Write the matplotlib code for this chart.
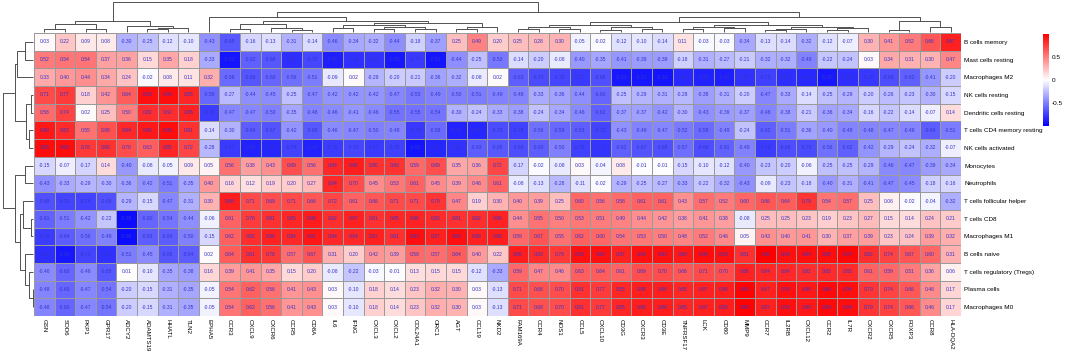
import matplotlib
matplotlib.use("Agg")
import matplotlib.pyplot as plt
import numpy as np
from matplotlib.colors import LinearSegmentedColormap

plt.rcParams['font.family'] = ['Liberation Sans', 'DejaVu Sans']

# ---------------- data ----------------
row_labels = ["B cells memory", "Mast cells resting", "Macrophages M2", "NK cells resting",
              "Dendritic cells resting", "T cells CD4 memory resting", "NK cells activated",
              "Monocytes", "Neutrophils", "T cells follicular helper", "T cells CD8",
              "Macrophages M1", "B cells naive", "T cells regulatory (Tregs)", "Plasma cells",
              "Macrophages M0"]

col_labels = ["GSN", "SOD6", "PKP1", "GPR17", "ADCY2", "ADAMTS19", "HHATL", "TLN2", "EPHA5",
              "CCR3", "CXCL9", "CXCR6", "CCR5", "CD8A", "IL6", "IFNG", "CXCL3", "CXCL2",
              "COL24A1", "ORC1", "AGT", "CCL19", "NKD2", "FAM169A", "CCR4", "NOS1", "CCL5",
              "CXCL10", "CD3G", "CXCR3", "CD3E", "TNFRSF17", "LCK", "CD80", "MMP9", "CCR7",
              "IL2RB", "CXCL12", "CCR2", "IL7R", "CXCR2", "CXCR5", "FOXP3", "CCR8", "HLA-DQA2"]

b_cells_memory = [0.03, 0.22, 0.09, 0.08, -0.30, -0.25, -0.12, -0.10, -0.43, -0.65,
                  -0.16, -0.13, -0.31, -0.14, -0.46, -0.34, -0.32, -0.44, -0.18, -0.37,
                  0.25, 0.49, 0.20, 0.25, 0.28, 0.30, -0.05, -0.02, -0.12, -0.10,
                  -0.14, 0.11, -0.03, -0.03, -0.34, -0.13, -0.14, -0.32, -0.12, -0.07,
                  0.30, 0.41, 0.52, 0.66, 0.87]
mast_cells_resting = [0.52, 0.54, 0.54, 0.37, 0.36, 0.15, 0.35, 0.18, -0.33, -0.92,
                      -0.62, -0.66, -0.82, -0.72, -0.88, -0.81, -0.80, -0.90, -0.77, -0.92,
                      -0.44, -0.25, -0.53, -0.14, -0.20, -0.08, -0.40, -0.35, -0.41, -0.39,
                      -0.39, -0.18, -0.31, -0.27, -0.21, -0.32, -0.32, -0.49, -0.22, -0.24,
                      0.03, 0.34, 0.31, 0.30, 0.47]
macrophages_m2 = [0.33, 0.40, 0.44, 0.34, 0.24, -0.02, 0.08, 0.11, 0.32, -0.58,
                  -0.66, -0.60, -0.56, -0.51, -0.09, 0.02, -0.29, -0.20, -0.21, -0.36,
                  -0.32, -0.08, 0.02, -0.63, -0.70, -0.72, -0.77, -0.68, -0.90, -0.91,
                  -0.92, -0.84, -0.86, -0.88, -0.80, -0.75, -0.82, -0.84, -0.90, -0.82,
                  -0.78, -0.69, -0.62, -0.41, -0.20]
nk_cells_resting = [0.71, 0.77, 0.18, 0.42, 0.64, 0.93, 0.94, 0.85, -0.59, -0.27,
                    -0.44, -0.45, -0.25, -0.47, -0.42, -0.42, -0.42, -0.47, -0.53, -0.49,
                    -0.50, -0.51, -0.49, -0.48, -0.33, -0.36, -0.44, -0.60, -0.25, -0.29,
                    -0.31, -0.28, -0.38, -0.31, -0.20, -0.47, -0.33, -0.14, -0.25, -0.29,
                    -0.20, -0.26, -0.23, -0.30, -0.15]
dendritic_cells_resting = [0.58, 0.74, 0.02, 0.25, 0.50, 0.82, 0.82, 0.86, -0.76, -0.47,
                           -0.47, -0.50, -0.35, -0.48, -0.46, -0.41, -0.46, -0.55, -0.55, -0.54,
                           -0.30, -0.24, -0.33, -0.38, -0.24, -0.34, -0.46, -0.62, -0.37, -0.37,
                           -0.42, -0.30, -0.43, -0.39, -0.37, -0.48, -0.38, -0.21, -0.36, -0.34,
                           -0.16, -0.22, -0.14, -0.07, 0.14]
t_cd4_memory_resting = [0.90, 0.83, 0.55, 0.68, 0.84, 0.90, 0.95, 0.81, -0.14, -0.30,
                        -0.64, -0.67, -0.42, -0.65, -0.46, -0.47, -0.50, -0.48, -0.78, -0.58,
                        -0.86, -0.85, -0.70, -0.75, -0.56, -0.59, -0.63, -0.73, -0.43, -0.49,
                        -0.47, -0.52, -0.58, -0.49, -0.24, -0.62, -0.51, -0.36, -0.40, -0.48,
                        -0.48, -0.47, -0.48, -0.64, -0.51]
nk_cells_activated = [0.95, 0.95, 0.78, 0.80, 0.70, 0.63, 0.85, 0.72, -0.28, -0.77,
                      -0.86, -0.85, -0.74, -0.86, -0.76, -0.72, -0.77, -0.75, -0.92, -0.85,
                      -0.80, -0.63, -0.65, -0.69, -0.63, -0.50, -0.75, -0.79, -0.62, -0.67,
                      -0.68, -0.57, -0.69, -0.61, -0.49, -0.76, -0.69, -0.70, -0.56, -0.62,
                      -0.42, -0.29, -0.24, -0.32, -0.07]
monocytes = [-0.15, -0.07, -0.17, 0.14, -0.40, -0.08, -0.05, 0.09, 0.05, 0.56,
             0.38, 0.43, 0.69, 0.56, 0.84, 0.88, 0.80, 0.80, 0.59, 0.69,
             0.35, 0.36, 0.72, -0.17, -0.02, -0.08, 0.03, -0.04, 0.08, -0.01,
             -0.01, -0.15, -0.10, -0.12, -0.40, -0.23, -0.20, -0.06, -0.25, -0.25,
             -0.29, -0.46, -0.47, -0.39, -0.34]
neutrophils = [-0.43, -0.33, -0.29, -0.30, -0.36, -0.42, -0.51, -0.35, 0.40, 0.16,
               0.12, 0.19, 0.20, 0.27, 0.84, 0.70, 0.45, 0.53, 0.61, 0.45,
               0.39, 0.46, 0.61, -0.08, -0.13, -0.28, -0.11, -0.02, -0.29, -0.25,
               -0.27, -0.33, -0.22, -0.32, -0.43, -0.09, -0.23, -0.18, -0.40, -0.31,
               -0.41, -0.47, -0.45, -0.18, -0.16]
t_follicular_helper = [-0.68, -0.73, -0.74, -0.68, -0.29, -0.15, -0.47, -0.31, 0.30, 0.88,
                       0.71, 0.69, 0.71, 0.66, 0.72, 0.61, 0.66, 0.71, 0.71, 0.79,
                       0.47, 0.19, 0.30, 0.40, 0.39, 0.25, 0.60, 0.56, 0.58, 0.61,
                       0.61, 0.43, 0.57, 0.52, 0.60, 0.66, 0.64, 0.79, 0.54, 0.57,
                       0.25, 0.06, -0.02, -0.04, -0.32]
t_cd8 = [-0.61, -0.51, -0.42, -0.22, -0.95, -0.60, -0.54, -0.44, -0.06, 0.61,
         0.76, 0.81, 0.85, 0.89, 0.82, 0.87, 0.81, 0.85, 0.86, 0.83,
         0.81, 0.82, 0.86, 0.44, 0.55, 0.50, 0.53, 0.51, 0.49, 0.44,
         0.42, 0.38, 0.41, 0.38, -0.08, 0.25, 0.25, 0.23, 0.19, 0.23,
         0.27, 0.15, 0.14, 0.24, 0.21]
macrophages_m1 = [-0.76, -0.64, -0.56, -0.49, -0.95, -0.63, -0.64, -0.50, -0.15, 0.62,
                  0.82, 0.86, 0.84, 0.91, 0.84, 0.84, 0.87, 0.81, 0.93, 0.87,
                  0.93, 0.86, 0.88, 0.59, 0.67, 0.55, 0.62, 0.60, 0.54, 0.53,
                  0.50, 0.48, 0.52, 0.46, 0.05, 0.43, 0.40, 0.41, 0.30, 0.37,
                  0.39, 0.23, 0.24, 0.39, 0.32]
b_cells_naive = [-0.82, -0.90, -0.73, -0.81, -0.51, -0.45, -0.66, -0.64, 0.02, 0.64,
                 0.81, 0.78, 0.57, 0.67, 0.31, 0.20, 0.42, 0.39, 0.59, 0.57,
                 0.64, 0.40, 0.22, 0.89, 0.83, 0.78, 0.93, 0.93, 0.87, 0.93,
                 0.93, 0.90, 0.95, 0.93, 0.81, 1.00, 0.93, 0.94, 0.95, 0.97,
                 0.82, 0.74, 0.67, 0.60, 0.31]
t_regs = [-0.46, -0.60, -0.46, -0.65, 0.01, -0.10, -0.35, -0.38, 0.16, 0.39,
          0.41, 0.35, 0.15, 0.20, -0.08, -0.22, -0.03, -0.01, 0.13, 0.15,
          0.15, -0.12, -0.33, 0.59, 0.47, 0.46, 0.63, 0.64, 0.61, 0.69,
          0.70, 0.66, 0.71, 0.70, 0.86, 0.84, 0.84, 0.82, 0.83, 0.83,
          0.61, 0.59, 0.51, 0.36, 0.06]
plasma_cells = [-0.48, -0.60, -0.47, -0.54, -0.20, -0.15, -0.31, -0.35, -0.05, 0.54,
                0.62, 0.56, 0.41, 0.43, 0.03, -0.10, 0.18, 0.14, 0.23, 0.32,
                0.30, 0.03, -0.13, 0.71, 0.68, 0.70, 0.81, 0.77, 0.85, 0.88,
                0.88, 0.85, 0.87, 0.88, 0.99, 0.87, 0.93, 0.90, 0.96, 0.94,
                0.79, 0.74, 0.66, 0.46, 0.17]
macrophages_m0 = [-0.48, -0.60, -0.47, -0.54, -0.20, -0.15, -0.31, -0.35, -0.05, 0.54,
                  0.62, 0.56, 0.41, 0.43, 0.03, -0.10, 0.18, 0.14, 0.23, 0.32,
                  0.30, 0.03, -0.13, 0.71, 0.68, 0.70, 0.81, 0.77, 0.85, 0.88,
                  0.88, 0.85, 0.87, 0.88, 0.99, 0.87, 0.93, 0.90, 0.96, 0.94,
                  0.79, 0.74, 0.66, 0.46, 0.17]

# dendrogram topologies: (left, right, merge height) with leaves as display indices
row_tree = (((((0, 1, 9), 2, 17), ((3, 4, 2.5), (5, 6, 4), 7), 19)),
            ((7, 8, 9), ((9, (10, 11, 2.5), 11), (12, (13, (14, 15, 0.6), 4), 9), 14), 19), 31)
row_tree = (row_tree[0], row_tree[1], row_tree[2])

col_left = (((0, 1, 3), (2, 3, 3.5), 8), (4, ((5, 6, 3), 7, 4.5), 6), 11)
col_c10_23 = ((((9, 10, 3), (11, (12, 13, 2.5), 4), 8)),
              (((14, 15, 4), ((16, 17, 3), (18, 19, 3.5), 5), 7), ((20, 21, 3), 22, 5), 9), 12)
col_rleft = (8, col_c10_23, 15.5)
col_a = (((23, 24, 3), (25, 26, 3.5), 5), ((27, 28, 2.5), (29, 30, 3), 5.5), 7)
col_b = (((31, 32, 3), (33, 34, 4), 5.5), (((35, 36, 2), 37, 3.5), ((38, 39, 2.5), 40, 4.5), 5), 7)
col_rr = ((41, 42, 2), (43, 44, 5), 11)
col_tree = (col_left, (col_rleft, ((col_a, col_b, 10), col_rr, 16), 21), 31)

# ---------------- figure ----------------
M = np.array([b_cells_memory, mast_cells_resting, macrophages_m2, nk_cells_resting,
              dendritic_cells_resting, t_cd4_memory_resting, nk_cells_activated, monocytes,
              neutrophils, t_follicular_helper, t_cd8, macrophages_m1, b_cells_naive,
              t_regs, plasma_cells, macrophages_m0])
nrow, ncol = M.shape

W, H = 1065, 352
fig = plt.figure(figsize=(W / 100, H / 100), dpi=100)


def fax(x0, y0, x1, y1):
    return fig.add_axes([x0 / W, 1 - y1 / H, (x1 - x0) / W, (y1 - y0) / H])


hm_l, hm_r, hm_t, hm_b = 34, 961, 33, 316
cmap = LinearSegmentedColormap.from_list('ph', ['#0000FF', '#FFFFFF', '#FF0000'])

ax = fax(hm_l, hm_t, hm_r, hm_b)
ax.pcolormesh(np.arange(ncol + 1), np.arange(nrow + 1), M, cmap=cmap, vmin=-1, vmax=1,
              edgecolors='#9a9a9a', linewidth=0.4)
ax.set_xlim(0, ncol)
ax.set_ylim(nrow, 0)
for i in range(nrow):
    for j in range(ncol):
        ax.text(j + 0.5, i + 0.5, f"{M[i, j]:.2f}", ha='center', va='center',
                fontsize=3.6, color='#3434c8')
ax.set_xticks(np.arange(ncol) + 0.5)
ax.set_xticklabels(col_labels, rotation=-90, fontsize=4.4, va='top', ha='center')
ax.set_yticks(np.arange(nrow) + 0.5)
ax.set_yticklabels(row_labels, fontsize=4.6)
ax.yaxis.tick_right()
ax.tick_params(length=0, pad=2.5)
for s in ax.spines.values():
    s.set_visible(False)


def draw_tree(axd, node, orient):
    if isinstance(node, int):
        return node + 0.5, 0.0
    l, r, h = node
    pl, hl = draw_tree(axd, l, orient)
    pr, hr = draw_tree(axd, r, orient)
    ps = [pl, pl, pr, pr]
    hs = [hl, h, h, hr]
    if orient == 'row':
        axd.plot(hs, ps, color='#505050', lw=0.7, solid_capstyle='butt')
    else:
        axd.plot(ps, hs, color='#505050', lw=0.7, solid_capstyle='butt')
    return (pl + pr) / 2, h


axr = fax(0, hm_t, hm_l, hm_b)
draw_tree(axr, row_tree, 'row')
axr.set_ylim(nrow, 0)
axr.set_xlim(34.5, -0.8)
axr.axis('off')

axc = fax(hm_l, 0, hm_r, hm_t)
draw_tree(axc, col_tree, 'col')
axc.set_xlim(0, ncol)
axc.set_ylim(-0.8, 33)
axc.axis('off')

# legend
axl = fax(1043, 34, 1049, 126)
grad = np.linspace(1, -1, 200).reshape(-1, 1)
axl.imshow(grad, cmap=cmap, vmin=-1, vmax=1, aspect='auto', extent=[0, 1, -1, 1])
axl.set_xticks([])
axl.yaxis.tick_right()
axl.set_yticks([0.5, 0, -0.5])
axl.set_yticklabels(['0.5', '0', '-0.5'], fontsize=4.6)
axl.tick_params(length=0, pad=2)
for s in axl.spines.values():
    s.set_visible(False)

fig.savefig('out.png', dpi=100)
